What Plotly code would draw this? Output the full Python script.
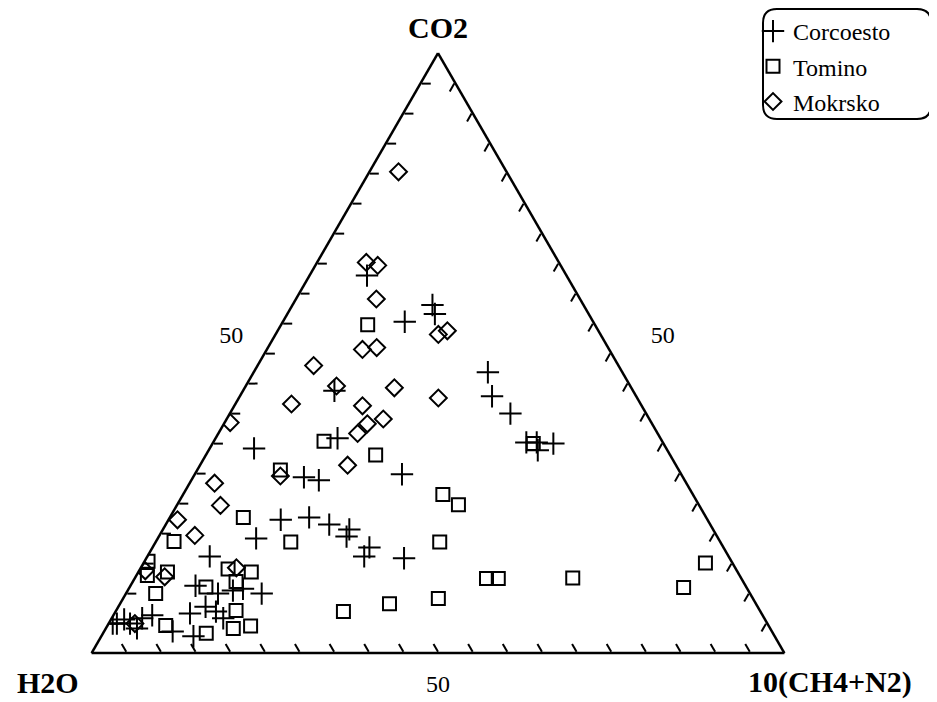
import plotly.graph_objects as go

# ---- data (percent, CO2 / 10(CH4+N2); H2O = 100 - the rest) ----
corc_co2 = [62.9, 58.0, 56.5, 55.2, 46.8, 42.8, 39.9, 35.1, 35.1, 33.8, 34.9, 43.7,
            34.1, 35.8, 29.3, 28.8, 29.8, 22.2, 22.6, 21.4, 20.6, 19.4, 17.6, 16.1,
            15.8, 19.1, 16.1, 11.2, 9.9, 10.4, 10.7, 9.9, 6.6, 7.7, 6.9, 5.8,
            2.8, 3.6, 4.9, 4.9, 5.6, 4.9, 5.8, 6.3, 4.1]
corc_ch4n2 = [8.3, 20.2, 21.3, 17.6, 33.8, 36.4, 40.5, 45.2, 46.7, 47.5, 49.2, 13.2,
              6.4, 17.6, 16.0, 18.4, 29.9, 16.2, 20.1, 23.6, 26.9, 27.1, 31.3, 31.3,
              37.2, 14.2, 9.0, 9.4, 13.3, 15.2, 16.5, 19.6, 10.9, 12.6, 14.5, 16.1,
              13.3, 9.9, 0.6, 1.2, 1.9, 3.1, 4.4, 5.6, 4.5]

tom_co2 = [54.7, 35.3, 33.0, 30.5, 26.4, 24.7, 22.6, 18.5, 18.5, 18.6, 34.9, 6.9,
           8.2, 9.1, 12.4, 12.4, 12.5, 10.9, 15.0, 15.3, 12.9, 13.5, 9.9, 4.6,
           14.0, 13.5, 11.9, 11.0, 7.1, 4.5, 4.1, 3.3]
tom_ch4n2 = [12.5, 15.9, 24.5, 12.0, 37.5, 40.6, 10.6, 19.5, 41.0, 2.6, 46.3, 32.9,
             38.9, 45.5, 50.8, 52.5, 63.2, 80.0, 81.1, 0.5, 1.6, 4.2, 4.3, 8.4,
             12.7, 16.3, 14.9, 11.0, 17.3, 20.7, 18.4, 14.9]

mok_co2 = [80.2, 65.1, 64.6, 59.0, 53.7, 53.1, 50.6, 50.9, 47.9, 44.5, 44.2, 42.5,
           41.5, 41.2, 39.0, 38.2, 36.6, 38.4, 31.3, 29.5, 28.3, 24.6, 22.2, 19.6,
           13.7, 12.7, 14.2, 4.9]
mok_ch4n2 = [4.2, 7.1, 9.0, 11.6, 24.5, 23.5, 13.8, 15.7, 8.1, 13.1, 21.6, 28.8,
             8.1, 18.5, 22.6, 20.7, 20.1, 0.8, 21.3, 12.5, 3.6, 6.3, 1.3, 5.1,
             0.9, 4.2, 13.8, 3.8]

tick_values = list(range(0, 101, 5))
MID_LABEL = "50"
NB = "\u00a0"
left_labels = [(MID_LABEL + NB * 3 + "<br>" + NB) if v == 50 else "" for v in tick_values]
right_labels = [(NB * 6 + MID_LABEL + "<br>" + NB) if v == 50 else "" for v in tick_values]
bottom_labels = ["" for v in tick_values]

series = [
    ("Corcoesto", corc_co2, corc_ch4n2, "cross-thin-open", 16),
    ("Tomino", tom_co2, tom_ch4n2, "square-open", 13),
    ("Mokrsko", mok_co2, mok_ch4n2, "diamond-open", 13),
]

SERIF = "Liberation Serif"
OFF = 8                 # page body margin
FW, FH = 937 - OFF, 702 - OFF

def fx(x):
    return (x - OFF) / FW

def fy(y):
    return 1 - (y - OFF) / FH

fig = go.Figure()
for name, co2, cn, sym, size in series:
    h2o = [round(100 - a - c, 2) for a, c in zip(co2, cn)]
    fig.add_trace(go.Scatterternary(
        a=co2, b=h2o, c=cn, mode="markers", name=name, legendgroup=name,
        marker=dict(symbol=sym, size=size, color="black",
                    line=dict(width=2, color="black")),
    ))

def axis(labels):
    return dict(
        tickmode="array", tickvals=tick_values, ticktext=labels,
        ticks="inside", ticklen=9, tickwidth=1.6, tickcolor="black",
        linecolor="black", linewidth=2.5, showgrid=False, min=0,
        tickfont=dict(family=SERIF, size=24, color="black"),
        title=dict(text=""),
    )

def rounded_rect(x0, y0, x1, y1, r):
    def p(x, y):
        return f"{fx(x):.5f},{fy(y):.5f}"
    return (f"M {p(x0+r,y0)} L {p(x1-r,y0)} Q {p(x1,y0)} {p(x1,y0+r)} "
            f"L {p(x1,y1-r)} Q {p(x1,y1)} {p(x1-r,y1)} L {p(x0+r,y1)} "
            f"Q {p(x0,y1)} {p(x0,y1-r)} L {p(x0,y0+r)} Q {p(x0,y0)} {p(x0+r,y0)} Z")

title_font = dict(family=SERIF, size=30, color="black")
tick_font = dict(family=SERIF, size=24, color="black")

fig.update_layout(
    width=FW, height=FH,
    margin=dict(l=0, r=0, t=0, b=0),
    paper_bgcolor="white", plot_bgcolor="white",
    ternary=dict(
        sum=100, bgcolor="white",
        domain=dict(x=[fx(91.5), fx(784.5)], y=[fy(653), fy(53)]),
        aaxis=axis(left_labels), baxis=axis(bottom_labels), caxis=axis(right_labels),
    ),
    legend=dict(
        x=fx(753), y=fy(9), xanchor="left", yanchor="top",
        bgcolor="rgba(0,0,0,0)", borderwidth=0,
        font=dict(family=SERIF, size=24, color="black"),
        tracegroupgap=1, traceorder="grouped",
    ),
    shapes=[dict(type="path", xref="paper", yref="paper",
                 path=rounded_rect(763, 9, 931, 119, 14),
                 line=dict(color="black", width=2))],
    annotations=[
        dict(text="<b>CO2</b>", x=fx(438), y=fy(27), xref="paper", yref="paper",
             xanchor="center", yanchor="middle", showarrow=False, font=title_font),
        dict(text="<b>H2O</b>", x=fx(48), y=fy(682), xref="paper", yref="paper",
             xanchor="center", yanchor="middle", showarrow=False, font=title_font),
        dict(text="<b>10(CH4+N2)</b>", x=fx(830), y=fy(682), xref="paper", yref="paper",
             xanchor="center", yanchor="middle", showarrow=False, font=title_font),
        dict(text=MID_LABEL, x=fx(438), y=fy(684), xref="paper", yref="paper",
             xanchor="center", yanchor="middle", showarrow=False, font=tick_font),
    ],
)

fig.write_html("out.html")
